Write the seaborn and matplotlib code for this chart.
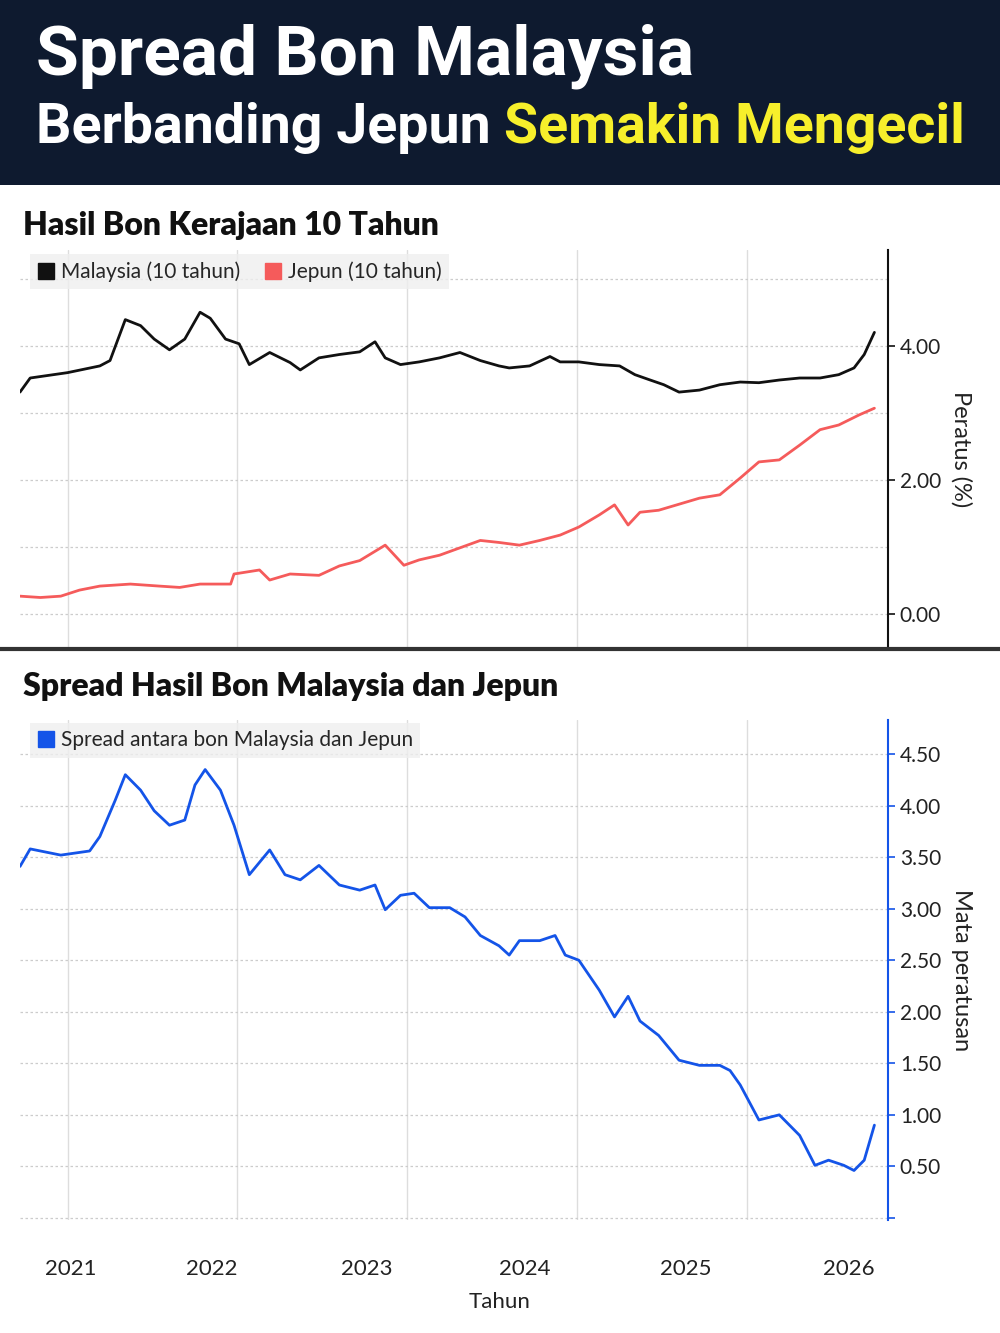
import matplotlib
matplotlib.use("Agg")
import matplotlib.pyplot as plt
import seaborn as sns
import pandas as pd
from matplotlib.lines import Line2D
from matplotlib.patches import Rectangle

sns.set_theme(style="white")
plt.rcParams['font.family'] = ['Lato', 'DejaVu Sans']

# ---- data (decimal years) ----
my_t = [2020.72, 2020.78, 2021.0, 2021.19, 2021.25, 2021.34, 2021.43, 2021.51, 2021.60, 2021.69, 2021.78, 2021.84,
        2021.93, 2022.01, 2022.07, 2022.19, 2022.31, 2022.37, 2022.48, 2022.60, 2022.72, 2022.81, 2022.87, 2022.96,
        2023.07, 2023.19, 2023.31, 2023.43, 2023.54, 2023.60, 2023.72, 2023.84, 2023.90, 2024.01, 2024.13, 2024.25,
        2024.34, 2024.43, 2024.51, 2024.60, 2024.72, 2024.84, 2024.96, 2025.07, 2025.19, 2025.31, 2025.43, 2025.54,
        2025.63, 2025.69, 2025.75]
my_v = [3.31, 3.52, 3.60, 3.70, 3.78, 4.39, 4.30, 4.10, 3.94, 4.10, 4.50, 4.41,
        4.10, 4.03, 3.72, 3.90, 3.75, 3.64, 3.82, 3.87, 3.91, 4.06, 3.82, 3.72,
        3.76, 3.82, 3.90, 3.78, 3.70, 3.67, 3.70, 3.84, 3.76, 3.76, 3.72, 3.70,
        3.57, 3.49, 3.42, 3.31, 3.34, 3.42, 3.46, 3.45, 3.49, 3.52, 3.52, 3.57,
        3.67, 3.87, 4.20]

jp_t = [2020.72, 2020.84, 2020.96, 2021.07, 2021.19, 2021.37, 2021.54, 2021.66, 2021.78, 2021.96, 2021.98, 2022.13,
        2022.19, 2022.31, 2022.48, 2022.60, 2022.72, 2022.87, 2022.98, 2023.07, 2023.19, 2023.31, 2023.43, 2023.54,
        2023.66, 2023.78, 2023.90, 2024.01, 2024.13, 2024.22, 2024.30, 2024.37, 2024.48, 2024.60, 2024.72, 2024.84,
        2024.96, 2025.07, 2025.19, 2025.31, 2025.43, 2025.54, 2025.66, 2025.75]
jp_v = [0.27, 0.25, 0.27, 0.36, 0.42, 0.45, 0.42, 0.40, 0.45, 0.45, 0.60, 0.66,
        0.51, 0.60, 0.58, 0.72, 0.80, 1.03, 0.73, 0.81, 0.88, 0.99, 1.10, 1.07,
        1.03, 1.10, 1.18, 1.30, 1.48, 1.63, 1.33, 1.52, 1.55, 1.64, 1.73, 1.78,
        2.03, 2.27, 2.30, 2.52, 2.75, 2.82, 2.97, 3.07]

sp_t = [2020.72, 2020.78, 2020.96, 2021.13, 2021.19, 2021.28, 2021.34, 2021.43, 2021.51, 2021.60, 2021.69, 2021.75,
        2021.81, 2021.90, 2021.98, 2022.07, 2022.19, 2022.28, 2022.37, 2022.48, 2022.60, 2022.72, 2022.81, 2022.87,
        2022.96, 2023.04, 2023.13, 2023.25, 2023.34, 2023.43, 2023.54, 2023.60, 2023.66, 2023.78, 2023.87, 2023.93,
        2024.01, 2024.13, 2024.22, 2024.30, 2024.37, 2024.48, 2024.60, 2024.72, 2024.84, 2024.90, 2024.96, 2025.07,
        2025.19, 2025.31, 2025.40, 2025.48, 2025.57, 2025.63, 2025.69, 2025.75]
sp_v = [3.41, 3.58, 3.52, 3.56, 3.70, 4.05, 4.30, 4.15, 3.95, 3.81, 3.86, 4.20,
        4.35, 4.15, 3.81, 3.33, 3.57, 3.33, 3.28, 3.42, 3.23, 3.18, 3.23, 2.99,
        3.13, 3.15, 3.01, 3.01, 2.92, 2.74, 2.64, 2.55, 2.69, 2.69, 2.74, 2.55,
        2.50, 2.21, 1.95, 2.15, 1.91, 1.77, 1.53, 1.48, 1.48, 1.43, 1.29, 0.95,
        1.00, 0.80, 0.51, 0.56, 0.51, 0.46, 0.56, 0.90]

year_grid = [2021, 2022, 2023, 2024, 2025]
year_label_pos = [2021.02, 2021.85, 2022.76, 2023.69, 2024.64, 2025.60]
year_labels = ["2021", "2022", "2023", "2024", "2025", "2026"]

df_top = pd.concat([
    pd.DataFrame({"t": my_t, "v": my_v, "s": "Malaysia (10 tahun)"}),
    pd.DataFrame({"t": jp_t, "v": jp_v, "s": "Jepun (10 tahun)"}),
])
df_sp = pd.DataFrame({"t": sp_t, "v": sp_v})

fig = plt.figure(figsize=(10, 13.33), dpi=100)
fig.patch.set_facecolor("white")

# header
fig.add_artist(Rectangle((0, 1 - 185/1333), 1, 185/1333, transform=fig.transFigure,
                         facecolor="#0e1a2f", edgecolor="none"))
fig.text(0.036, 0.958, "Spread Bon Malaysia", color="white", fontsize=50, fontweight="bold",
         family=["Roboto", "DejaVu Sans"], va="center")
t1 = fig.text(0.036, 0.904, "Berbanding Jepun ", color="white", fontsize=40, fontweight="bold",
              family=["Roboto", "DejaVu Sans"], va="center")
fig.canvas.draw()
bb = t1.get_window_extent()
fig.text(bb.x1 / fig.bbox.width, 0.904, "Semakin Mengecil", color="#f7ef2b", fontsize=40,
         fontweight="bold", family=["Roboto", "DejaVu Sans"], va="center")

xlim = (2020.72, 2025.83)

def style_axis(ax, color):
    ax.set_xlim(*xlim)
    for s in ["top", "left", "bottom"]:
        ax.spines[s].set_visible(False)
    ax.spines["right"].set_color(color)
    ax.spines["right"].set_linewidth(1.5)
    ax.yaxis.tick_right()
    ax.yaxis.set_label_position("right")
    ax.tick_params(axis="y", colors=color, labelcolor="#222222", labelsize=15, length=5, width=1.2, direction="out")
    for x in year_grid:
        ax.axvline(x, color="#dddddd", lw=1, zorder=0)

# top panel
ax1 = fig.add_axes([0.02, 0.514, 0.868, 0.2986])
sns.lineplot(data=df_top, x="t", y="v", hue="s", palette=["#111111", "#f55b5b"], linewidth=2,
             ax=ax1, legend=False, sort=False)
style_axis(ax1, "#111111")
ax1.set_ylim(-0.5, 5.43)
ax1.set_yticks([0, 2, 4])
ax1.set_yticklabels(["0.00", "2.00", "4.00"])
for y in [0, 1, 2, 3, 4, 5]:
    ax1.axhline(y, color="#cccccc", lw=0.9, ls=(0, (2, 2)), zorder=0)
ax1.set_xticks([])
ax1.set_xlabel("")
ax1.set_ylabel("Peratus (%)", rotation=-90, fontsize=17, labelpad=22, color="#222222")
handles = [Line2D([], [], marker="s", ls="none", color="#111111", markersize=12),
           Line2D([], [], marker="s", ls="none", color="#f55b5b", markersize=12)]
leg = ax1.legend(handles, ["Malaysia (10 tahun)", "Jepun (10 tahun)"], loc="upper left",
                 bbox_to_anchor=(0.0, 1.015), ncol=2, frameon=True, fontsize=15, handletextpad=0.3,
                 columnspacing=1.2, borderpad=0.35, fancybox=False, handlelength=0.8)
leg.get_frame().set_facecolor("#efefef"); leg.get_frame().set_edgecolor("none")
fig.text(0.023, 0.831, "Hasil Bon Kerajaan 10 Tahun", fontsize=23, fontweight="heavy", color="#111111", va="center")

# separator
fig.add_artist(Line2D([0, 1], [1 - 649/1333] * 2, transform=fig.transFigure, color="#333333", lw=3))

# bottom panel
ax2 = fig.add_axes([0.02, 0.0848, 0.868, 0.375])
sns.lineplot(data=df_sp, x="t", y="v", color="#1454e8", linewidth=2, ax=ax2, sort=False)
style_axis(ax2, "#1454e8")
ax2.set_ylim(-0.02, 4.83)
ticks = [0, 0.5, 1, 1.5, 2, 2.5, 3, 3.5, 4, 4.5]
ax2.set_yticks(ticks)
ax2.set_yticklabels([""] + [f"{t:.2f}" for t in ticks[1:]])
for y in ticks:
    ax2.axhline(y, color="#cccccc", lw=0.9, ls=(0, (2, 2)), zorder=0)
ax2.set_xticks(year_label_pos)
ax2.set_xticklabels(year_labels)
ax2.tick_params(axis="x", length=0, labelsize=16, pad=28, labelcolor="#222222")
ax2.set_xlabel("")
fig.text(0.5, 1 - 1302/1333, "Tahun", fontsize=16, color="#222222", ha="center", va="center")
ax2.set_ylabel("Mata peratusan", rotation=-90, fontsize=17, labelpad=22, color="#222222")
h2 = [Line2D([], [], marker="s", ls="none", color="#1454e8", markersize=12)]
leg2 = ax2.legend(h2, ["Spread antara bon Malaysia dan Jepun"], loc="upper left",
                  bbox_to_anchor=(0.0, 1.015), frameon=True, fontsize=15, handletextpad=0.3,
                  borderpad=0.35, fancybox=False, handlelength=0.8)
leg2.get_frame().set_facecolor("#efefef"); leg2.get_frame().set_edgecolor("none")
fig.text(0.023, 0.485, "Spread Hasil Bon Malaysia dan Jepun", fontsize=23, fontweight="heavy", color="#111111", va="center")

fig.savefig("out.png", dpi=100)
